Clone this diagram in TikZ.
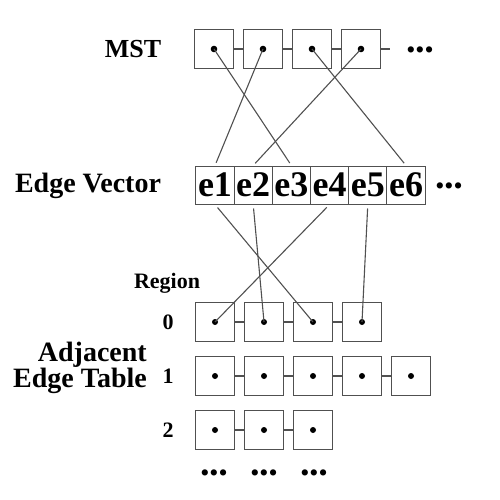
\documentclass[tikz,border=0pt]{standalone}
\usepackage{fontspec}
\setmainfont{Liberation Serif}
\usepackage{tikz}
\usetikzlibrary{
  calc,%
  positioning
}
\definecolor{boxgray}{RGB}{80,80,80}
\tikzset{>=latex}
\tikzset{cellbox/.style={draw=boxgray, line width=1pt, minimum size=39pt, inner sep=0pt}}
\tikzset{vecbox/.style={draw=boxgray, line width=1pt, minimum width=38.2pt,
    minimum height=38pt, inner sep=0pt, font=\fontsize{36}{36}\selectfont\bfseries}}
\tikzset{linkline/.style={draw=boxgray, line width=1.1pt}}
\tikzset{biglabel/.style={font=\fontsize{28}{23}\selectfont\bfseries, inner sep=0pt}}
\tikzset{rowlabel/.style={font=\fontsize{22}{22}\selectfont\bfseries, inner sep=0pt}}
\tikzset{moredots/.style={font=\fontsize{26}{26}\selectfont, inner sep=0pt}}
\begin{document}
\begin{tikzpicture}[x=1pt,y=-1pt]
  \useasboundingbox (0,0) rectangle (500,500);
  % MST list
  \node[biglabel, font=\fontsize{26}{26}\selectfont\bfseries] (mst) at (133,49) {MST};
  \foreach \i in {1,...,4} {
    \node[cellbox] (m\i) at ({214+49*(\i-1)},49) {};
    \fill (m\i.center) circle (3.3pt);
  }
  \foreach \i/\j in {1/2,2/3,3/4}
    \draw[linkline] (m\i) -- (m\j);
  \coordinate (mend) at (390,49);
  \draw[linkline] (m4) -- (mend);
  \node[moredots] (mstmore) at (420,53) {•••};

  % edge vector
  \node[biglabel] (vec) at (88,186) {Edge Vector};
  \foreach \i in {1,...,6}
    \node[vecbox] (e\i) at ({215+38.2*(\i-1)},185) {e\i};
  \node[moredots] (vecmore) at (449,189) {•••};

  % adjacent edge table
  \node[rowlabel] (region) at (167,283) {Region};
  \node[biglabel, align=right, anchor=east] (table) at (147,368) {Adjacent\\Edge Table};
  \foreach \r/\n/\y in {0/4/322,1/5/376,2/3/430} {
    \node[rowlabel] (l\r) at (168,\y) {\r};
    \foreach \i [remember=\i as \p (initially 0)] in {1,...,\n} {
      \node[cellbox] (r\r-\i) at ({215+49*(\i-1)},\y) {};
      \fill (r\r-\i.center) circle (3pt);
      \ifnum\i>1 \draw[linkline] (r\r-\p) -- (r\r-\i); \fi
    }
  }
  \foreach \i in {1,2,3}
    \node[moredots] (more\i) at ({214+50*(\i-1)},476) {•••};

  % MST -> edge vector
  \draw[linkline, shorten >=3pt] (m1.center) -- (e3.north);
  \draw[linkline, shorten >=3pt] (m2.center) -- (e1.north);
  \draw[linkline, shorten >=3pt] (m3.center) -- (e6.north);
  \draw[linkline, shorten >=3pt] (m4.center) -- (e2.north);
  % edge vector -> region 0
  \draw[linkline, shorten <=4pt] (e1.south) -- (r0-3.center);
  \draw[linkline, shorten <=4pt] (e2.south) -- (r0-2.center);
  \draw[linkline, shorten <=4pt] (e4.south) -- (r0-1.center);
  \draw[linkline, shorten <=4pt] (e5.south) -- (r0-4.center);
\end{tikzpicture}
\end{document}
